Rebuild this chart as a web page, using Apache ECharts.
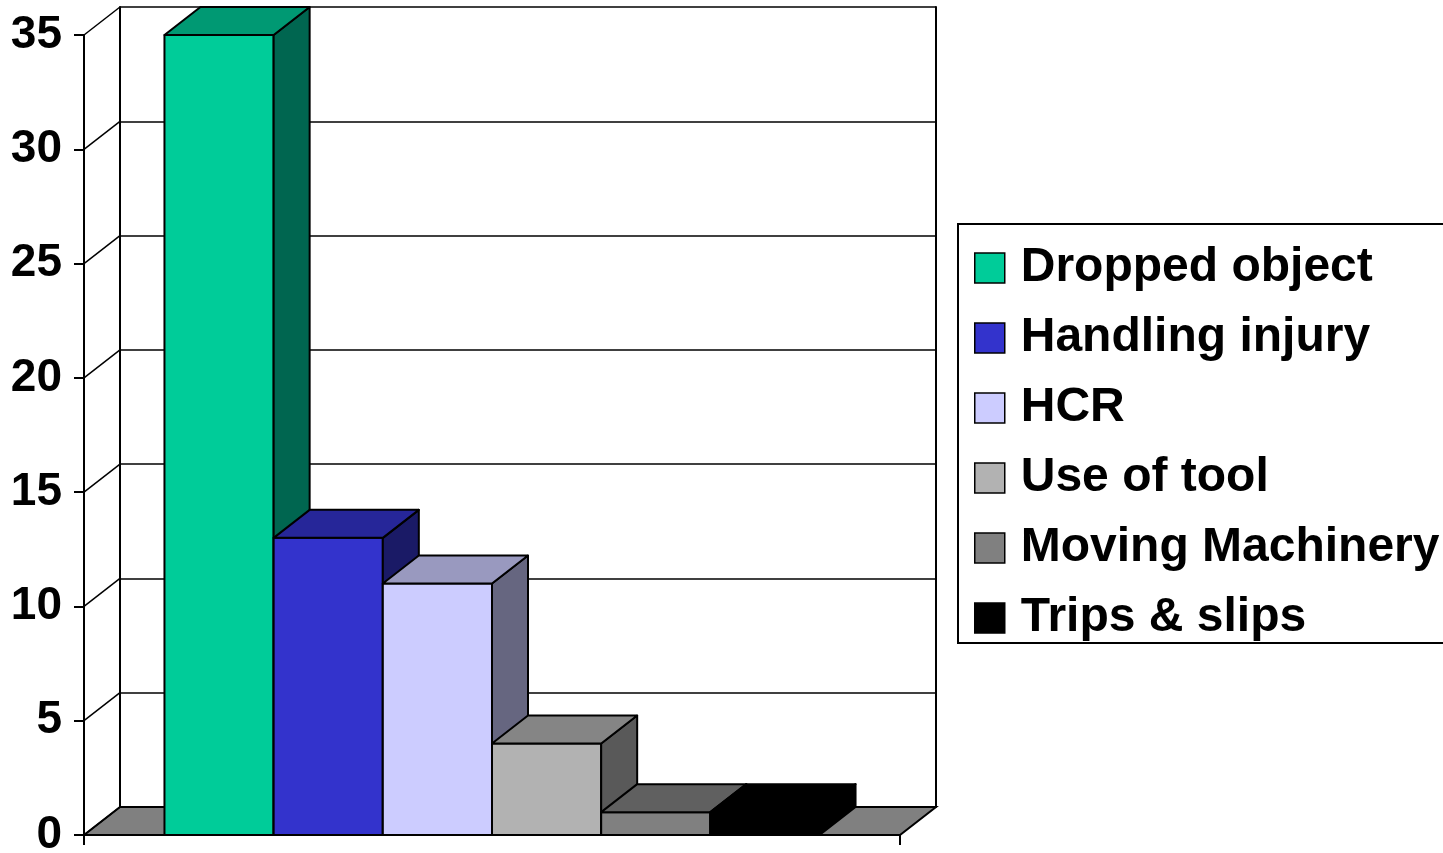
<!DOCTYPE html>
<html>
<head>
<meta charset="utf-8">
<script src="https://cdn.jsdelivr.net/npm/echarts@6/dist/echarts.min.js"></script>
<style>
html,body{margin:0;padding:0;background:#fff;}
#chart{width:1443px;height:853px;}
</style>
</head>
<body>
<div id="chart"></div>
<script>
// ---- data ----
const categories = ['Dropped object', 'Handling injury', 'HCR', 'Use of tool', 'Moving Machinery', 'Trips & slips'];
const values = [35, 13, 11, 4, 1, 1];
const yTicks = [0, 5, 10, 15, 20, 25, 30, 35];

// ---- styles ----
const frontColors = ['#00CC99', '#3333CC', '#CCCCFF', '#B2B2B2', '#808080', '#000000'];
const topColors   = ['#009973', '#262699', '#9999BF', '#858585', '#606060', '#000000'];
const sideColors  = ['#006650', '#1A1A66', '#666680', '#595959', '#404040', '#000000'];
const FONT = '"Liberation Sans", Arial, sans-serif';
const DX = 36, DY = -28;          // depth offset of the 3D look (pixels)
const XMIN = -0.737, XMAX = categories.length + 0.737;
const LINE = '#000';

const chart = echarts.init(document.getElementById('chart'), null, {renderer: 'canvas'});

function barRender(idx) {
  return function (params, api) {
    const i = api.value(0), v = api.value(1);
    const p0 = api.coord([i, 0]);
    const p1 = api.coord([i + 1, v]);
    const x0 = p0[0], x1 = p1[0], yb = p0[1], yt = p1[1];
    const st = {stroke: LINE, lineWidth: 2, lineJoin: 'round'};
    return {
      type: 'group',
      children: [
        {type: 'rect', shape: {x: x0, y: yt, width: x1 - x0, height: yb - yt},
         style: Object.assign({fill: frontColors[idx]}, st)},
        {type: 'polygon', shape: {points: [[x1, yb], [x1, yt], [x1 + DX, yt + DY], [x1 + DX, yb + DY]]},
         style: Object.assign({fill: sideColors[idx]}, st)},
        {type: 'polygon', shape: {points: [[x0, yt], [x1, yt], [x1 + DX, yt + DY], [x0 + DX, yt + DY]]},
         style: Object.assign({fill: topColors[idx]}, st)}
      ]
    };
  };
}

const series = [];
// floor
series.push({
  type: 'custom', name: '_floor', xAxisIndex: 0, yAxisIndex: 0, clip: false, silent: true,
  data: [[0, 0]],
  renderItem: function (params, api) {
    const a = api.coord([XMIN, 0]), b = api.coord([XMAX, 0]);
    return {
      type: 'group',
      children: [
        {type: 'polygon', shape: {points: [a, b, [b[0] + DX, b[1] + DY], [a[0] + DX, a[1] + DY]]},
         style: {fill: '#808080', stroke: LINE, lineWidth: 2}},
        {type: 'line', shape: {x1: a[0], y1: a[1], x2: a[0], y2: a[1] + 10}, style: {stroke: LINE, lineWidth: 2}},
        {type: 'line', shape: {x1: b[0], y1: b[1], x2: b[0], y2: b[1] + 10}, style: {stroke: LINE, lineWidth: 2}}
      ]
    };
  }
});
// bars
categories.forEach(function (name, i) {
  series.push({
    type: 'custom', name: name, xAxisIndex: 0, yAxisIndex: 0, clip: false,
    itemStyle: {color: frontColors[i], borderColor: '#000', borderWidth: 1.5},
    data: [[i, values[i]]],
    renderItem: barRender(i)
  });
});
// diagonal connectors from front axis ticks to the back wall
series.push({
  type: 'custom', name: '_frame', xAxisIndex: 0, yAxisIndex: 0, clip: false, silent: true,
  data: yTicks.map(function (v) { return [0, v]; }),
  renderItem: function (params, api) {
    const p = api.coord([XMIN, api.value(1)]);
    return {type: 'line', shape: {x1: p[0], y1: p[1], x2: p[0] + DX, y2: p[1] + DY},
            style: {stroke: LINE, lineWidth: 1.5}};
  }
});

const option = {
  animation: false,
  backgroundColor: '#fff',
  grid: [
    {left: 84, top: 35, width: 816, height: 800, containLabel: false, outerBoundsMode: 'none'},
    {left: 84 + DX, top: 35 + DY, width: 816, height: 800, containLabel: false, outerBoundsMode: 'none'}
  ],
  xAxis: [
    {gridIndex: 0, type: 'value', min: XMIN, max: XMAX, show: false},
    {gridIndex: 1, type: 'value', min: XMIN, max: XMAX, show: false}
  ],
  yAxis: [
    {gridIndex: 0, type: 'value', min: 0, max: 35, interval: 5,
     axisLine: {show: true, onZero: false, lineStyle: {color: LINE, width: 2}},
     axisTick: {show: true, length: 10, lineStyle: {color: LINE, width: 2}},
     axisLabel: {fontSize: 46, fontWeight: 'bold', color: '#000', fontFamily: FONT, margin: 22},
     splitLine: {show: false}},
    {gridIndex: 1, type: 'value', min: 0, max: 35, interval: 5,
     axisLine: {show: true, onZero: false, lineStyle: {color: LINE, width: 2}},
     axisTick: {show: false}, axisLabel: {show: false},
     splitLine: {show: true, lineStyle: {color: LINE, width: 1.5}}},
    {gridIndex: 1, type: 'value', min: 0, max: 35, interval: 5, position: 'right',
     axisLine: {show: true, onZero: false, lineStyle: {color: LINE, width: 2}},
     axisTick: {show: false}, axisLabel: {show: false}, splitLine: {show: false}}
  ],
  legend: {
    data: categories,
    orient: 'vertical',
    left: 958, top: 224,
    padding: [20, 30, 1, 16],
    borderColor: '#000', borderWidth: 2,
    itemWidth: 52, itemHeight: 30, itemGap: 22,
    icon: 'path://M0 0H10V10H0Z',
    symbolKeepAspect: true,
    selectedMode: false,
    itemStyle: {borderColor: '#000', borderWidth: 1.5},
    textStyle: {fontSize: 48, fontWeight: 'bold', color: '#000', fontFamily: FONT, lineHeight: 48}
  },
  series: series
};
chart.setOption(option);
</script>
</body>
</html>
